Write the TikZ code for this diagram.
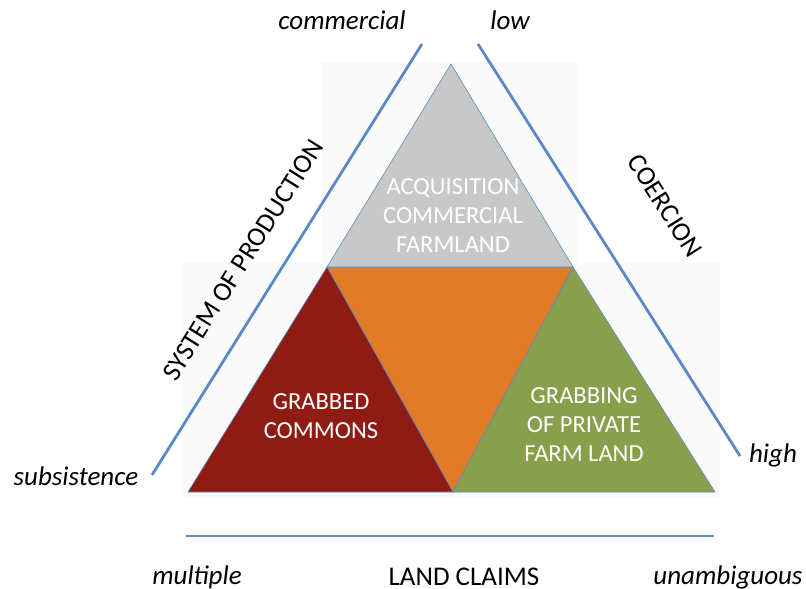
\documentclass[tikz,border=0pt]{standalone}
\usepackage{fontspec}
\setmainfont{Carlito}
\definecolor{axisblue}{HTML}{5A8AC6}
\definecolor{farmgray}{HTML}{C8C8C8}
\definecolor{midorange}{HTML}{E27B26}
\definecolor{commonsred}{HTML}{8F1C14}
\definecolor{privgreen}{HTML}{88A04B}
\begin{document}
\begin{tikzpicture}[x=1pt,y=-1pt,
    axisline/.style={axisblue, line width=2.8pt},
    edge/.style={draw=axisblue, line width=0.6pt, line join=round},
    endlabel/.style={inner sep=0pt, font=\fontsize{27}{32}\selectfont\itshape},
    axislabel/.style={inner sep=0pt, font=\fontsize{27}{32}\selectfont},
    fieldlabel/.style={inner sep=0pt, text=white, align=center, font=\fontsize{24.5}{29}\selectfont}]
    \useasboundingbox (0,0) rectangle (806,589);

    % faint backdrop behind the triangles
    \fill[black!2] (322,62) rectangle (578,268);
    \fill[black!2] (182,263) rectangle (720,498);

    % corners of the triangles
    \coordinate (top) at (451,64);
    \coordinate (midL) at (327,267);
    \coordinate (midR) at (573,267);
    \coordinate (botL) at (188,492);
    \coordinate (botM) at (453,492);
    \coordinate (botR) at (715,492);

    % the four fields
    \fill[midorange, edge] (midL) -- (midR) -- (botM) -- cycle;
    \fill[farmgray, edge] (top) -- (midR) -- (midL) -- cycle;
    \fill[commonsred, edge] (midL) -- (botM) -- (botL) -- cycle;
    \fill[privgreen, edge] (midR) -- (botR) -- (botM) -- cycle;

    % axis lines
    \coordinate (prodA) at (152,475);
    \coordinate (prodB) at (422,44);
    \coordinate (coerA) at (478,44);
    \coordinate (coerB) at (740,456);
    \coordinate (claimA) at (186,536);
    \coordinate (claimB) at (714,536);
    \draw[axisline] (prodA) -- (prodB);
    \draw[axisline] (coerA) -- (coerB);
    \draw[axisline] (claimA) -- (claimB);

    % field labels
    \node[fieldlabel] (acq) at (453,216) {ACQUISITION\\COMMERCIAL\\FARMLAND};
    \node[fieldlabel] (commons) at (321,416) {GRABBED\\COMMONS};
    \node[fieldlabel] (private) at (584,425) {GRABBING\\OF PRIVATE\\FARM LAND};

    % axis labels
    \node[axislabel, rotate=57.9] (prod) at (243,260) {SYSTEM OF PRODUCTION};
    \node[axislabel, rotate=-57.5] (coer) at (665,206) {COERCION};
    \node[axislabel] (claims) at (464,577) {LAND CLAIMS};

    % ends of the axes
    \node[endlabel] (commercial) at (342,20) {commercial};
    \node[endlabel] (subsist) at (76,476) {subsistence};
    \node[endlabel] (low) at (510,20) {low};
    \node[endlabel] (high) at (773,455) {high};
    \node[endlabel] (multiple) at (197,577) {multiple};
    \node[endlabel] (unamb) at (728,577) {unambiguous};
\end{tikzpicture}
\end{document}
